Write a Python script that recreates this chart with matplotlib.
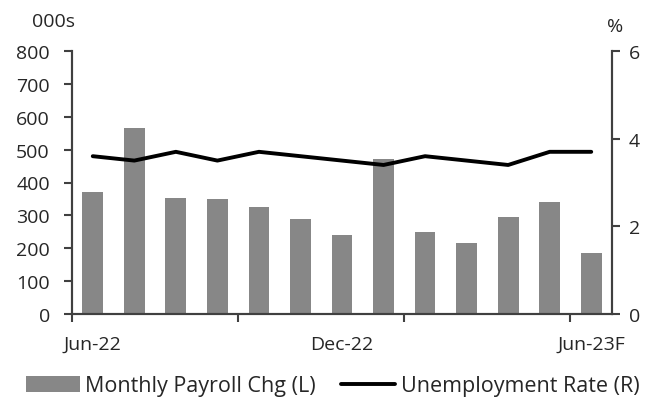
import numpy as np
import matplotlib
matplotlib.use("Agg")
import matplotlib.pyplot as plt

months = ["Jun-22", "Jul-22", "Aug-22", "Sep-22", "Oct-22", "Nov-22", "Dec-22",
          "Jan-23", "Feb-23", "Mar-23", "Apr-23", "May-23", "Jun-23F"]
payroll = [370, 567, 353, 351, 324, 290, 240, 472, 249, 217, 294, 340, 185]
unemployment = [3.6, 3.5, 3.7, 3.5, 3.7, 3.6, 3.5, 3.4, 3.6, 3.5, 3.4, 3.7, 3.7]
label_months = ["Jun-22", "Dec-22", "Jun-23F"]

plt.rcParams["font.family"] = ["Open Sans", "DejaVu Sans"]
txt = "#262626"
axc = "#404040"
fs = 14

fig = plt.figure(figsize=(6.52, 4.02), dpi=100)
ax = fig.add_axes([72 / 652, 1 - 315 / 402, 540 / 652, 263 / 402])
ax2 = ax.twinx()

x = np.arange(len(months))
bars = ax.bar(x, payroll, width=0.5, color="#878787", label="Monthly Payroll Chg (L)")
line, = ax2.plot(x, unemployment, color="black", lw=2.8, solid_capstyle="round",
                 label="Unemployment Rate (R)")

ax.set_xlim(-0.5, len(months) - 0.5)
ax.set_ylim(0, 800)
ax.set_yticks(range(0, 801, 100))
ax2.set_ylim(0, 6)
ax2.set_yticks([0, 2, 4, 6])

# ticks on category boundaries every 4 months, labels every 6 months
ax.set_xticks([-0.5, 3.5, 7.5, 11.5])
ax.set_xticklabels([])
ax.set_xticks([months.index(m) for m in label_months], minor=True)
ax.set_xticklabels(label_months, minor=True)
ax.tick_params(axis="x", which="major", length=6, width=1.5, color=axc, direction="out")
ax.tick_params(axis="x", which="minor", length=0, pad=15, labelsize=fs, labelcolor=txt)
ax.tick_params(axis="y", length=6, width=1.5, color=axc, labelsize=fs, labelcolor=txt, pad=10)
ax2.tick_params(axis="y", length=6, width=1.5, color=axc, labelsize=fs, labelcolor=txt, pad=6)

for a in (ax, ax2):
    a.spines["top"].set_visible(False)
    for s in ("left", "right", "bottom"):
        a.spines[s].set_color(axc)
        a.spines[s].set_linewidth(1.5)

fig.text(32 / 652, 1 - 22 / 402, "000s", fontsize=fs, color=txt, va="center")
fig.text(607 / 652, 1 - 27 / 402, "%", fontsize=fs, color=txt, va="center")

fig.legend([bars, line], ["Monthly Payroll Chg (L)", "Unemployment Rate (R)"],
           loc="center", bbox_to_anchor=(0.51, 1 - 387 / 402), ncol=2, frameon=False,
           fontsize=15.5, handlelength=2.5, handletextpad=0.25, columnspacing=1.2,
           labelcolor=txt)

fig.savefig("out.png", dpi=100)
